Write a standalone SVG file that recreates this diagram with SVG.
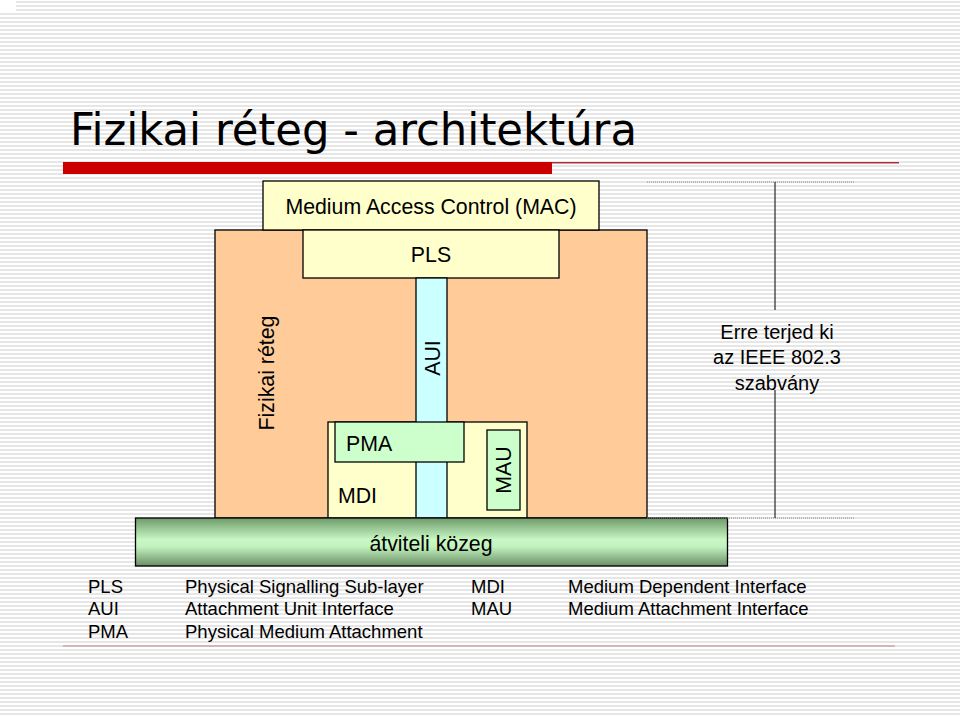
<svg xmlns="http://www.w3.org/2000/svg" width="960" height="717" viewBox="0 0 960 717">
<defs>
<pattern id="stripes" x="0" y="0" width="8" height="4" patternUnits="userSpaceOnUse">
<rect x="0" y="0" width="8" height="4" fill="#ffffff"/>
<rect x="0" y="1" width="8" height="2" fill="#e6e6e6"/>
</pattern>
<linearGradient id="medium" x1="0" y1="0" x2="0" y2="1">
<stop offset="0" stop-color="#6f9a6b"/>
<stop offset="0.45" stop-color="#c8f8c4"/>
<stop offset="0.6" stop-color="#c2f2be"/>
<stop offset="1" stop-color="#6a8e66"/>
</linearGradient>
<style>
.box{stroke:#000;stroke-width:1.3}
.t{font-family:"Liberation Sans",Arial,sans-serif;font-size:21.3px;fill:#000}
.n{font-family:"Liberation Sans",Arial,sans-serif;font-size:20px;fill:#000}
.lg{font-family:"Liberation Sans",Arial,sans-serif;font-size:18.5px;fill:#000}
.dot{stroke:#888;stroke-width:1;stroke-dasharray:1 1}
</style>
</defs>
<rect width="960" height="717" fill="url(#stripes)"/>
<rect x="0" y="0" width="16" height="11" fill="#fff"/>

<text x="70" y="145" font-family="'DejaVu Sans Condensed','Liberation Sans',sans-serif" font-size="44" textLength="567" lengthAdjust="spacingAndGlyphs">Fizikai réteg - architektúra</text>
<rect x="63" y="162" width="489" height="12" fill="#cc0000"/>
<line x1="552" y1="162.7" x2="899" y2="162.7" stroke="#b03040" stroke-width="1.5"/>

<g id="fizikai">
<rect class="box" x="215" y="230" width="432" height="288" fill="#ffcc99"/>
<text class="t" transform="translate(274,373) rotate(-90)" text-anchor="middle">Fizikai réteg</text>
</g>
<g id="mac">
<rect class="box" x="263" y="181" width="336" height="49" fill="#ffffcc"/>
<text class="t" x="431" y="214" text-anchor="middle">Medium Access Control (MAC)</text>
</g>
<g id="pls">
<rect class="box" x="303" y="230" width="256" height="48" fill="#ffffcc"/>
<text class="t" x="431" y="262" text-anchor="middle">PLS</text>
</g>
<g id="mdi">
<rect class="box" x="328" y="422" width="199" height="96" fill="#ffffcc"/>
<text class="t" x="338" y="503">MDI</text>
</g>
<g id="aui">
<rect class="box" x="416" y="278" width="31" height="240" fill="#ccffff"/>
<text class="t" transform="translate(439.5,358) rotate(-90)" text-anchor="middle">AUI</text>
</g>
<g id="pma">
<rect class="box" x="335" y="422" width="129" height="40" fill="#ccffcc"/>
<text class="t" x="346" y="451">PMA</text>
</g>
<g id="mau">
<rect class="box" x="487" y="430" width="33" height="80" fill="#ccffcc"/>
<text class="t" transform="translate(511,470) rotate(-90)" text-anchor="middle">MAU</text>
</g>
<g id="kozeg">
<rect class="box" x="135.5" y="518" width="592" height="48" fill="url(#medium)"/>
<text class="t" x="431" y="551" text-anchor="middle">átviteli közeg</text>
</g>

<g id="connectors">
<line class="dot" x1="647" y1="182" x2="855" y2="182"/>
<line class="dot" x1="647" y1="518" x2="855" y2="518"/>
<line x1="775" y1="182" x2="775" y2="310" stroke="#000" stroke-width="1"/>
<line x1="775" y1="390" x2="775" y2="518" stroke="#000" stroke-width="1"/>
</g>
<g id="ieee">
<text class="n" text-anchor="middle"><tspan x="777" y="339">Erre terjed ki</tspan><tspan x="777" y="364">az IEEE 802.3</tspan><tspan x="777" y="390">szabvány</tspan></text>
</g>

<g id="legend" class="lg">
<text x="88" y="593">PLS</text>
<text x="185" y="593">Physical Signalling Sub-layer</text>
<text x="471" y="593">MDI</text>
<text x="568" y="593">Medium Dependent Interface</text>
<text x="88" y="615">AUI</text>
<text x="185" y="615">Attachment Unit Interface</text>
<text x="471" y="615">MAU</text>
<text x="568" y="615">Medium Attachment Interface</text>
<text x="88" y="638">PMA</text>
<text x="185" y="638">Physical Medium Attachment</text>
</g>
<line x1="63" y1="646" x2="895" y2="646" stroke="#c8a8a8" stroke-width="1.5"/>
</svg>
